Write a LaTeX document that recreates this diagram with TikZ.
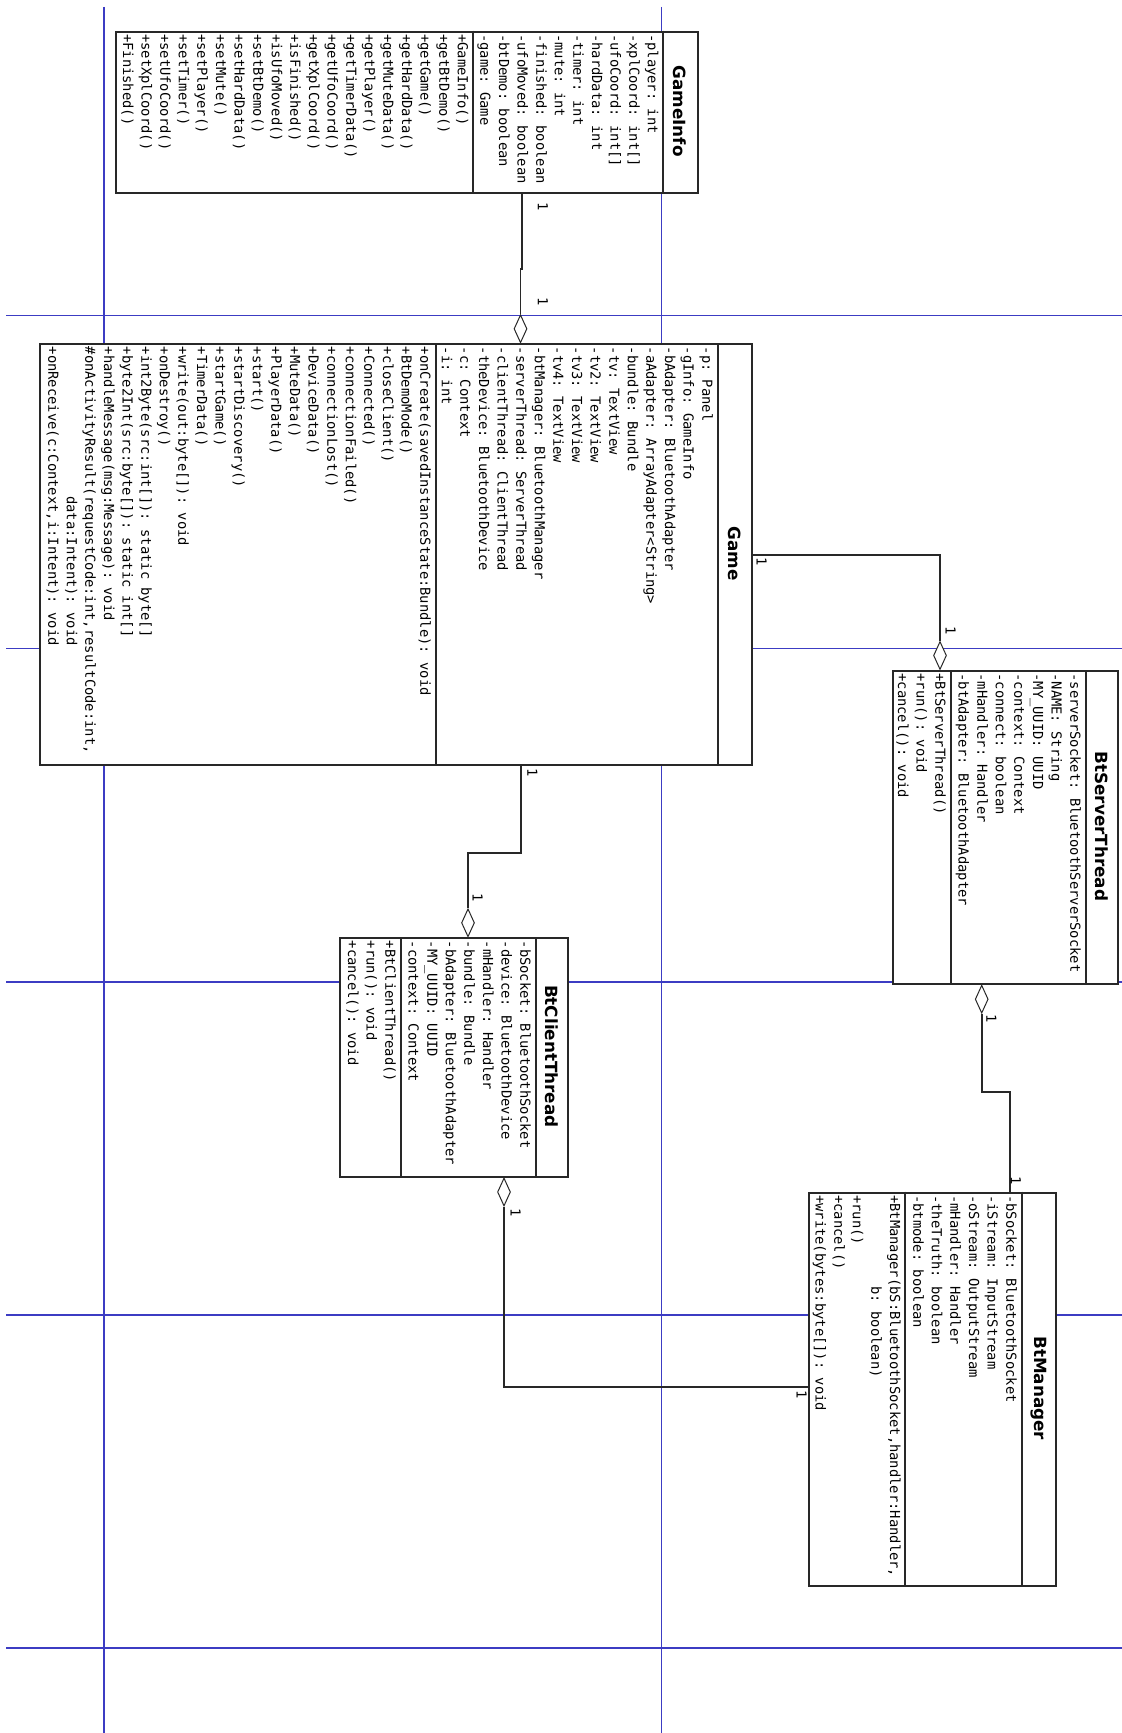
\documentclass[tikz,border=0pt]{standalone}
\usepackage{fontspec}
\setmonofont{DejaVu Sans Mono}
\newfontfamily\umltitlefont{DejaVu Sans}
\usetikzlibrary{calc,shapes.geometric}
\definecolor{gridblue}{RGB}{60,60,195}
\definecolor{inkcol}{RGB}{40,40,40}
\newcommand\umltext{\ttfamily\fontsize{6.9}{9.3}\selectfont}
\newcommand\umltitle{\umltitlefont\bfseries\fontsize{8.4}{10}\selectfont}
\begin{document}
\begin{tikzpicture}[x=0.5pt,y=-0.5pt,
  umlbox/.style={draw=inkcol, line width=1pt, fill=white, rectangle, inner sep=0pt, anchor=north west},
  divider/.style={draw=inkcol, line width=1pt},
  conn/.style={draw=inkcol, line width=0.9pt},
  aggr/.style={diamond, draw=inkcol, fill=white, line width=0.5pt, inner sep=0pt, minimum width=6.5pt, minimum height=14pt},
  members/.style={rotate=-90, anchor=north west, inner sep=0pt, align=left, font=\umltext},
  classname/.style={rotate=-90, inner sep=0pt, font=\umltitle},
  mult/.style={rotate=-90, inner sep=0pt, font=\umltext},
  gridline/.style={draw=gridblue, line width=0.75pt}]
\useasboundingbox[fill=white] (0,0) rectangle (1122,1733);

% page grid
\draw[gridline] (104,7) -- (104,1733);
\draw[gridline] (661.7,7) -- (661.7,1733);
\foreach \gy in {315.5,648.5,982,1315,1648}
  \draw[gridline] (6,\gy) -- (1122,\gy);

% class boxes
\node[umlbox, minimum width=290.85pt, minimum height=80.5pt] (gameinfo) at (115,30.7) {};
\node[umlbox, minimum width=355.85pt, minimum height=210.35pt] (game) at (39,343.3) {};
\node[umlbox, minimum width=112.8pt, minimum height=156.35pt] (bts) at (891.7,670) {};
\node[umlbox, minimum width=114pt, minimum height=119.1pt] (btc) at (339.3,937.3) {};
\node[umlbox, minimum width=123.35pt, minimum height=196.65pt] (btm) at (808.3,1191.7) {};

% compartment dividers
\draw[divider] (473.3,30.7) -- (473.3,191.7);
\draw[divider] (663.3,30.7) -- (663.3,191.7);
\draw[divider] (435.7,343.3) -- (435.7,764);
\draw[divider] (717.7,343.3) -- (717.7,764);
\draw[divider] (950.7,670) -- (950.7,982.7);
\draw[divider] (1085.7,670) -- (1085.7,982.7);
\draw[divider] (400.7,937.3) -- (400.7,1175.5);
\draw[divider] (535.7,937.3) -- (535.7,1175.5);
\draw[divider] (905,1191.7) -- (905,1585);
\draw[divider] (1021.7,1191.7) -- (1021.7,1585);

% class names
\node[classname] (gameinfoname) at (680,111.2) {GameInfo};
\node[classname] (gamename) at (734.2,553.6) {Game};
\node[classname] (btsname) at (1101.5,826.3) {BtServerThread};
\node[classname] (btcname) at (551.5,1056.4) {BtClientThread};
\node[classname] (btmname) at (1038.3,1388.3) {BtManager};

% attributes and operations
\node[members] (gameinfoattr) at (661.3,33.7) {\strut-player: int\\-xplCoord: int[]\\-ufoCoord: int[]\\-hardData: int\\-timer: int\\-mute: int\\-finished: boolean\\-ufoMoved: boolean\\-btDemo: boolean\\-game: Game};
\node[members] (gameinfoops) at (471.3,33.7) {\strut+GameInfo()\\+getBtDemo()\\+getGame()\\+getHardData()\\+getMuteData()\\+getPlayer()\\+getTimerData()\\+getUfoCoord()\\+getXplCoord()\\+isFinished()\\+isUfoMoved()\\+setBtDemo()\\+setHardData()\\+setMute()\\+setPlayer()\\+setTimer()\\+setUfoCoord()\\+setXplCoord()\\+Finished()};

\node[members] (gameattr) at (715.7,346.3) {\strut-p: Panel\\-gInfo: GameInfo\\-bAdapter: BluetoothAdapter\\-aAdapter: ArrayAdapter<String>\\-bundle: Bundle\\-tv: TextView\\-tv2: TextView\\-tv3: TextView\\-tv4: TextView\\-btManager: BluetoothManager\\-serverThread: ServerThread\\-clientThread: ClientThread\\-theDevice: BluetoothDevice\\-c: Context\\-i: int};
\node[members] (gameops) at (433.7,346.3) {\strut+onCreate(savedInstanceState:Bundle): void\\+BtDemoMode()\\+closeClient()\\+Connected()\\+connectionFailed()\\+connectionLost()\\+DeviceData()\\+MuteData()\\+PlayerData()\\+start()\\+startDiscovery()\\+startGame()\\+TimerData()\\+write(out:byte[]): void\\+onDestroy()\\+int2Byte(src:int[]): static byte[]\\+byte2Int(src:byte[]): static int[]\\+handleMessage(msg:Message): void\\\#onActivityResult(requestCode:int,resultCode:int,\\\phantom{\#onActivityResult(}data:Intent): void\\+onReceive(c:Context,i:Intent): void};

\node[members] (btsattr) at (1083.7,673) {\strut-serverSocket: BluetoothServerSocket\\-NAME: String\\-MY\_UUID: UUID\\-context: Context\\-connect: boolean\\-mHandler: Handler\\-btAdapter: BluetoothAdapter};
\node[members] (btsops) at (948.7,673) {\strut+BtServerThread()\\+run(): void\\+cancel(): void};

\node[members] (btcattr) at (533.7,940.3) {\strut-bSocket: BluetoothSocket\\-device: BluetoothDevice\\-mHandler: Handler\\-bundle: Bundle\\-bAdapter: BluetoothAdapter\\-MY\_UUID: UUID\\-context: Context};
\node[members] (btcops) at (398.7,940.3) {\strut+BtClientThread()\\+run(): void\\+cancel(): void};

\node[members] (btmattr) at (1019.7,1194.7) {\strut-bSocket: BluetoothSocket\\-iStream: InputStream\\-oStream: OutputStream\\-mHandler: Handler\\-theTruth: boolean\\-btmode: boolean};
\node[members] (btmops) at (903.5,1194.7) {\strut+BtManager(bS:BluetoothSocket,handler:Handler,\\\phantom{+BtManager(}b: boolean)\\+run()\\+cancel()\\+write(bytes:byte[]): void};

% aggregation diamonds
\node[aggr, anchor=south] (d1) at ($(game.north west)+(481.5,0)$) {};
\node[aggr, anchor=south] (d2) at ($(bts.north west)+(48.3,0)$) {};
\node[aggr, anchor=south] (d3) at ($(btc.north west)+(128.7,0)$) {};
\node[aggr, anchor=north] (d4) at ($(bts.south west)+(90,0)$) {};
\node[aggr, anchor=north] (d5) at ($(btc.south west)+(164.7,0)$) {};

% connectors
\draw[conn] ($(gameinfo.south west)+(406.7,0)$) -- ++(0,75) -- ++(-1.2,0) -- (d1.north);
\draw[conn] (game.east) -| (d2.north);
\draw[conn] ($(game.south west)+(481.7,0)$) -- ++(0,87) -| (d3.north);
\draw[conn] (d4.south) -- ++(0,78.3) -| ($(btm.north west)+(201.7,0)$);
\draw[conn] (d5.south) |- ($(btm.north west)+(0,195.6)$);

% multiplicities
\node[mult] (m1a) at (543,207) {1};
\node[mult] (m1b) at (543,301.7) {1};
\node[mult] (m2a) at (761.7,561.7) {1};
\node[mult] (m2b) at (950.7,631) {1};
\node[mult] (m3a) at (532.3,772.3) {1};
\node[mult] (m3b) at (477.7,897.7) {1};
\node[mult] (m4a) at (991.5,1019) {1};
\node[mult] (m4b) at (1016,1181) {1};
\node[mult] (m5a) at (515.7,1212.3) {1};
\node[mult] (m5b) at (801.7,1395) {1};
\end{tikzpicture}
\end{document}
